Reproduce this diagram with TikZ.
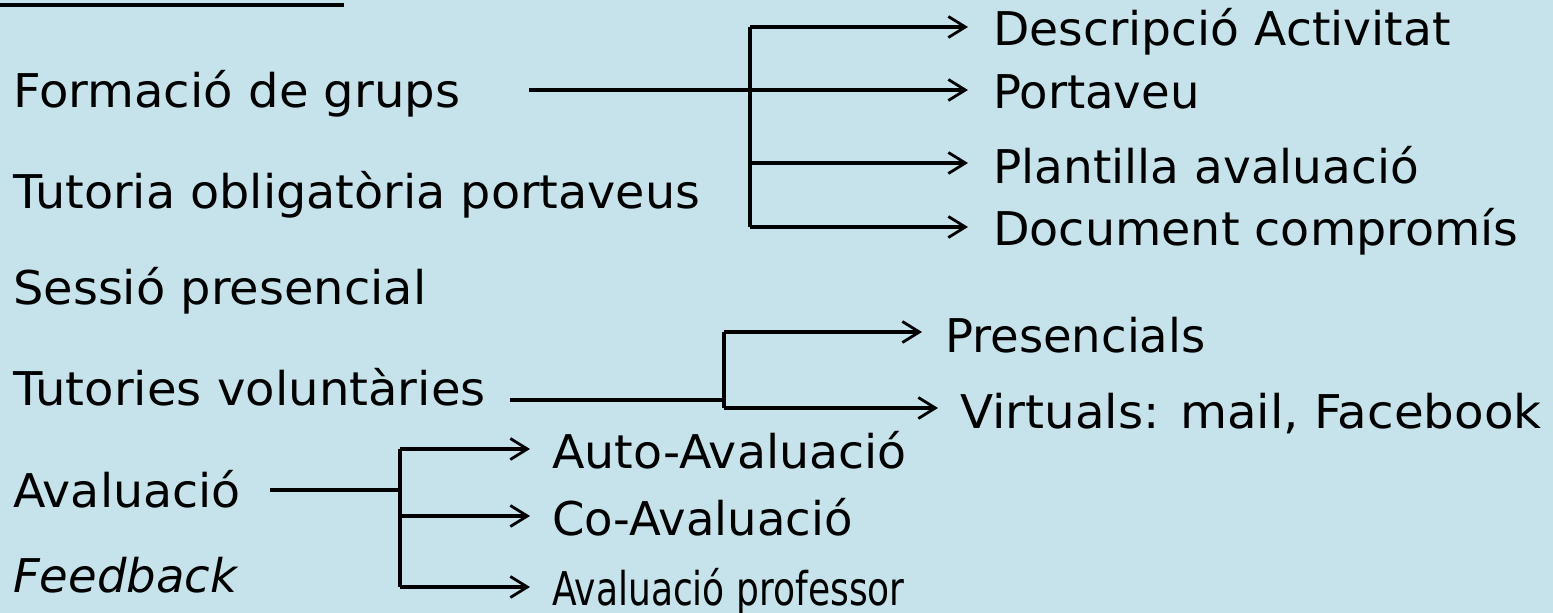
\documentclass[tikz,border=0pt]{standalone}
\usepackage{fontspec}
\usepackage{graphicx}
\setmainfont{DejaVu Sans}
\usetikzlibrary{arrows.meta}
\definecolor{bgblue}{RGB}{198,227,235}
\newcommand{\hsq}[2]{\scalebox{#1}[1]{#2}}
\tikzset{
  lbl/.style={anchor=base west, inner sep=0pt, font=\fontsize{46.5}{50}\selectfont, text=black},
  ln/.style={draw=black, line width=3.2pt},
  arr/.style={ln, -{Straight Barb[length=17pt,width=21pt,line width=2.8pt]}}
}
\begin{document}
\begin{tikzpicture}[x=1pt,y=-1pt]
\fill[bgblue] (0,0) rectangle (1553,613);
\useasboundingbox (0,0) rectangle (1553,613);
% top rule
\coordinate (r1) at (0,5);
\coordinate (r2) at (344,5);
\draw[ln] (r1) -- (r2);
% left column
\node[lbl] (fg) at (13,107) {\hsq{1.035}{Formació de grups}};
\node[lbl] (tp) at (13,208) {\hsq{1.025}{Tutoria obligatòria portaveus}};
\node[lbl] (sp) at (13,304) {\hsq{1.03}{Sessió presencial}};
\node[lbl] (tv) at (13,405) {\hsq{1.035}{Tutories voluntàries}};
\node[lbl] (av) at (13,507) {\hsq{1.02}{Avaluació}};
\node[lbl] (fb) at (13,592) {\itshape Feedback};
% group 1
\node[lbl] (da) at (993,45) {\hsq{1.015}{Descripció Activitat}};
\node[lbl] (pv) at (993,108) {Portaveu};
\node[lbl] (pa) at (993,183) {\hsq{1.01}{Plantilla avaluació}};
\node[lbl] (dc) at (993,245) {\hsq{1.023}{Document compromís}};
\coordinate (g1s) at (529,90);
\coordinate (g1j) at (750,90);
\coordinate (g1t) at (750,27);
\coordinate (g1b) at (750,227);
\coordinate (ea) at (968,27);
\coordinate (eb) at (968,90);
\coordinate (ec) at (968,163);
\coordinate (ed) at (968,227);
\draw[ln] (g1s) -- (g1j);
\draw[ln] (g1t) -- (g1b);
\draw[arr] (g1t) -- (ea);
\draw[arr] (g1j) -- (eb);
\draw[arr] (g1j |- ec) -- (ec);
\draw[arr] (g1b) -- (ed);
% group 2
\node[lbl] (pr) at (945,352) {Presencials};
\node[lbl] (vi) at (960,428) {\hsq{1.04}{Virtuals: mail, Facebook}};
\coordinate (g2s) at (510,400);
\coordinate (g2j) at (724,400);
\coordinate (g2t) at (724,332);
\coordinate (g2b) at (724,408);
\coordinate (ep) at (922,332);
\coordinate (ev) at (938,408);
\draw[ln] (g2s) -- (g2j);
\draw[ln] (g2t) -- (g2b);
\draw[arr] (g2t) -- (ep);
\draw[arr] (g2b) -- (ev);
% group 3
\node[lbl] (aa) at (552,468) {\hsq{1.02}{Auto-Avaluació}};
\node[lbl] (ca) at (552,535) {Co-Avaluació};
\node[lbl] (ap) at (552,605) {\hsq{0.775}{Avaluació professor}};
\coordinate (g3s) at (270,490);
\coordinate (g3j) at (400,490);
\coordinate (g3t) at (400,449);
\coordinate (g3b) at (400,587);
\coordinate (e1) at (530,449);
\coordinate (e2) at (530,516);
\coordinate (e3) at (530,587);
\draw[ln] (g3s) -- (g3j);
\draw[ln] (g3t) -- (g3b);
\draw[arr] (g3t) -- (e1);
\draw[arr] (g3j |- e2) -- (e2);
\draw[arr] (g3b) -- (e3);
\end{tikzpicture}
\end{document}
